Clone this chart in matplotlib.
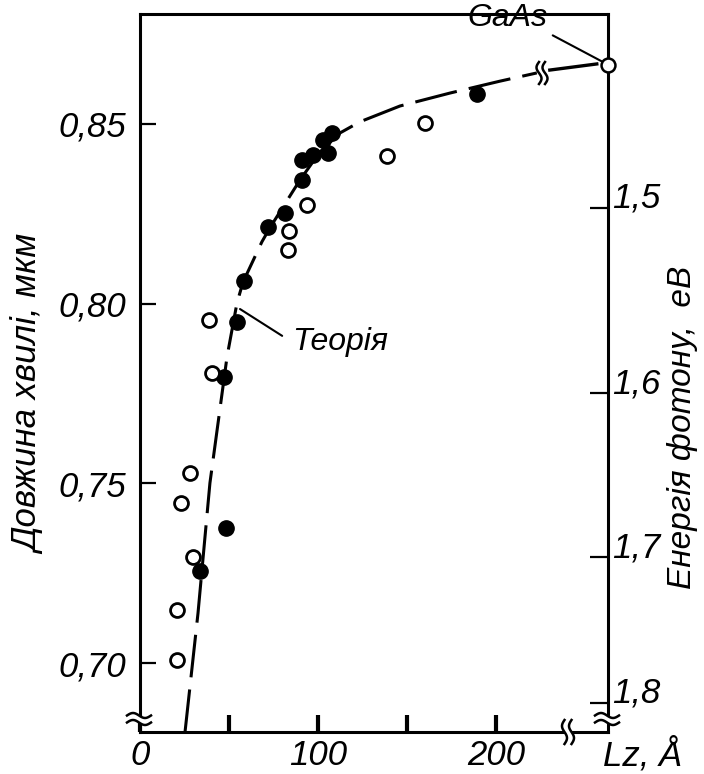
import numpy as np
import matplotlib.pyplot as plt

plt.rcParams['font.family'] = ['Liberation Sans', 'DejaVu Sans']
plt.rcParams['font.style'] = 'italic'

# експериментальні точки (Lz в ангстремах, довжина хвилі в мкм)
lz_filled = [189.3, 107.9, 102.8, 105.6, 97.2, 91.0, 91.0, 81.5, 71.9, 58.4, 54.5, 47.2, 48.3, 33.7]
wl_filled = [0.8583, 0.8475, 0.8455, 0.8419, 0.8414, 0.8400, 0.8344, 0.8252, 0.8213,
             0.8063, 0.7949, 0.7796, 0.7376, 0.7256]
lz_open = [160.1, 138.8, 93.8, 83.7, 83.1, 38.8, 40.4, 28.1, 23.0, 29.8, 20.8, 20.8]
wl_open = [0.8503, 0.8411, 0.8275, 0.8202, 0.8149, 0.7955, 0.7807, 0.7529, 0.7445,
           0.7295, 0.7148, 0.7009]
gaas_lz, gaas_wl = 263, 0.8665

# теоретична крива
theory_lz = [25.3, 32.6, 39.3, 48.9, 54.5, 57.9, 68.5, 73.0, 89.9, 101.1, 112.4, 123.6,
             146.1, 174.2, 202.2, 223.0]
theory_wl = [0.6808, 0.7139, 0.7501, 0.7852, 0.8002, 0.8060, 0.8172, 0.8211, 0.8344,
             0.8422, 0.8475, 0.8506, 0.8550, 0.8586, 0.8619, 0.8642]
tail_lz = [230.3, 256.7]
tail_wl = [0.8650, 0.8667]

x_ticks = [0, 50, 100, 150, 200]
x_labels = ['0', '', '100', '', '200']
y_ticks = [0.70, 0.75, 0.80, 0.85]
y_labels = ['0,70', '0,75', '0,80', '0,85']
e_ticks = [1.5, 1.6, 1.7, 1.8]
e_labels = ['1,5', '1,6', '1,7', '1,8']

W, H = 704, 774
fig = plt.figure(figsize=(W / 100, H / 100), dpi=100)
ax = fig.add_axes([140 / W, 42 / H, 468 / W, 718 / H])
ax.set_xlim(0, 263)
ax.set_ylim(0.6808, 0.8806)

ax.plot(theory_lz, theory_wl, color='k', lw=2.2, linestyle=(0, (14, 4)), zorder=2)
ax.plot(tail_lz, tail_wl, color='k', lw=2.4, zorder=2)
ax.plot(lz_filled, wl_filled, 'o', color='k', ms=11, zorder=3)
ax.plot(lz_open, wl_open, 'o', mfc='white', mec='k', mew=2, ms=10, zorder=3)
ax.plot([gaas_lz], [gaas_wl], 'o', mfc='white', mec='k', mew=1.8, ms=10, zorder=4, clip_on=False)

for s in ax.spines.values():
    s.set_linewidth(2.2)

ax.set_xticks(x_ticks)
ax.set_xticklabels(x_labels)
ax.set_yticks(y_ticks)
ax.set_yticklabels(y_labels)
ax.tick_params(axis='x', direction='in', length=12, width=3, pad=5, labelsize=25)
ax.tick_params(axis='y', direction='in', length=11.5, width=1.6, pad=10, labelsize=25)

# права вісь: енергія фотону
ax2 = ax.twinx()
ax2.set_ylim(ax.get_ylim())
ax2.set_yticks([1.24 / e for e in e_ticks])
ax2.set_yticklabels(e_labels)
ax2.tick_params(axis='y', direction='in', length=13, width=1.6, pad=3, labelsize=25)
for tl in ax2.get_yticklabels():
    tl.set_va('baseline')
for s in ax2.spines.values():
    s.set_visible(False)

ax.annotate('Теорія', xy=(56.2, 0.7985), xytext=(85.4, 0.7893), ha='left', va='center',
            fontsize=23,
            arrowprops=dict(arrowstyle='-', lw=1.5, color='k', shrinkA=6, shrinkB=0,
                            relpos=(0, 0.5)))
ax.annotate('GaAs', xy=(gaas_lz, gaas_wl), xytext=(229, 0.8796), ha='right', va='center',
            fontsize=23, annotation_clip=False,
            arrowprops=dict(arrowstyle='-', lw=1.5, color='k', shrinkA=2, shrinkB=5,
                            relpos=(1, 0.0)))

fig.text(30 / W, 1 - 395 / H, 'Довжина хвилі, мкм', rotation=90, ha='center', va='center',
         fontsize=25)
fig.text(683 / W, 1 - 427 / H, 'Енергія фотону,  еВ', rotation=90, ha='center', va='center',
         fontsize=24)
fig.text(603 / W, 1 - 755 / H, 'Lz, Å', ha='left', va='center', fontsize=25)

# розриви осей
ov = fig.add_axes([0, 0, 1, 1], zorder=10)
ov.set_xlim(0, W)
ov.set_ylim(H, 0)
ov.axis('off')
ov.patch.set_alpha(0)


def brk(cx, cy, vertical=False, w=24, gap=7, amp=2.5):
    t = np.linspace(-w / 2, w / 2, 40)
    wave = amp * np.sin(2 * np.pi * t / w)
    if not vertical:
        ov.fill_between(t + cx, cy - gap / 2 + wave, cy + gap / 2 + wave, color='white', lw=0)
        ov.plot(t + cx, cy - gap / 2 + wave, 'k', lw=1.8)
        ov.plot(t + cx, cy + gap / 2 + wave, 'k', lw=1.8)
    else:
        ov.fill_betweenx(t + cy, cx - gap / 2 + wave, cx + gap / 2 + wave, color='white', lw=0)
        ov.plot(cx - gap / 2 + wave, t + cy, 'k', lw=1.8)
        ov.plot(cx + gap / 2 + wave, t + cy, 'k', lw=1.8)


brk(139, 719)
brk(607, 719)
brk(568, 732, vertical=True)
brk(542, 73, vertical=True, w=22, gap=6)

fig.savefig('out.png', dpi=100)
